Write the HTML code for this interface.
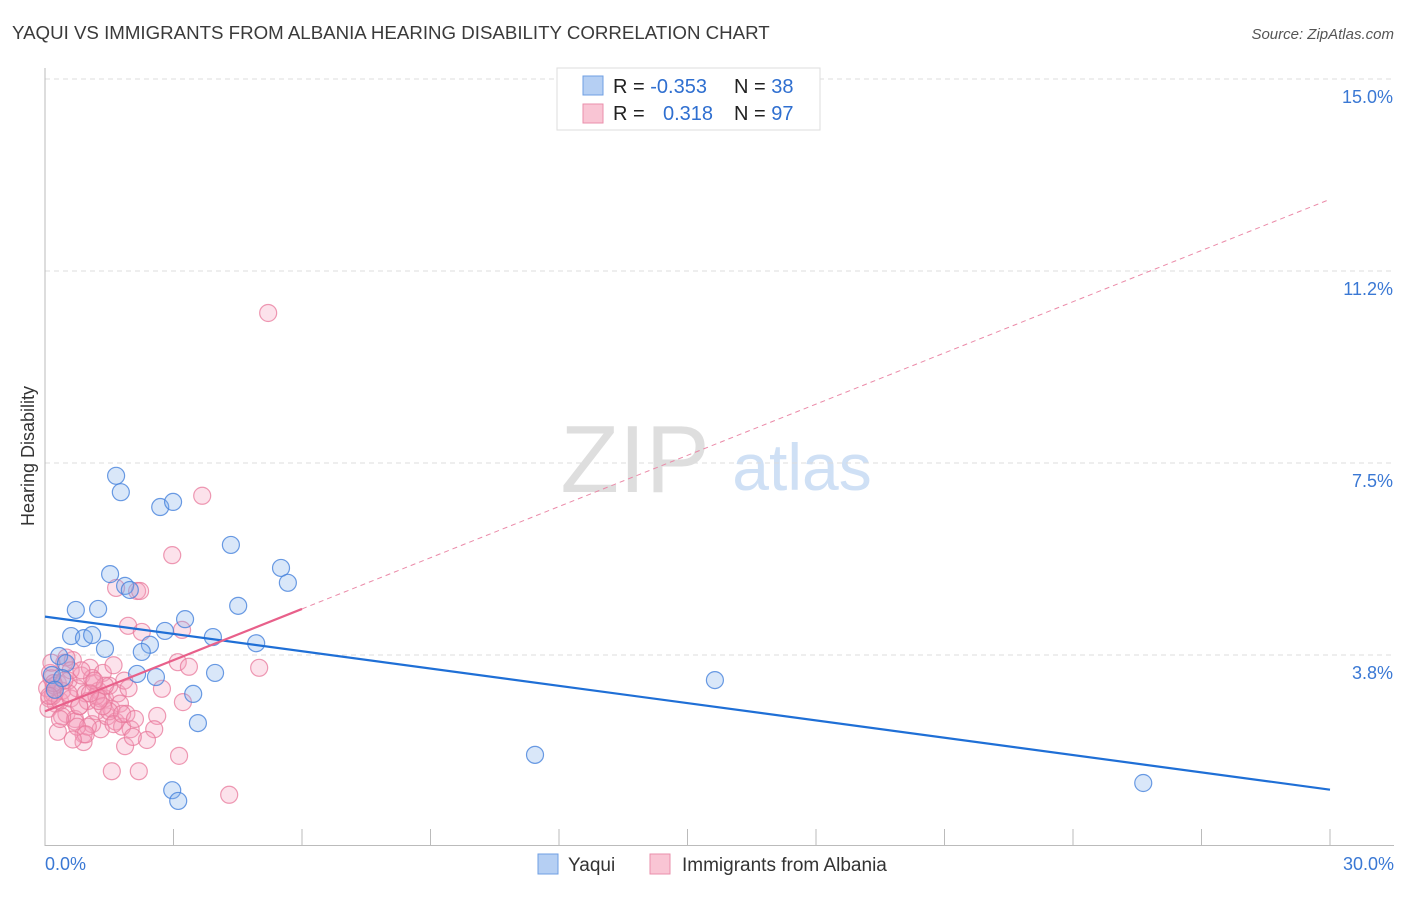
<!DOCTYPE html>
<html><head><meta charset="utf-8"><style>
body{margin:0;background:#fff;font-family:"Liberation Sans",sans-serif;}
svg text{font-family:"Liberation Sans",sans-serif;}
</style></head><body>
<svg id="c" width="1406" height="892" xmlns="http://www.w3.org/2000/svg">
<text x="12" y="39" font-size="18.7" fill="#3a3a3a">YAQUI VS IMMIGRANTS FROM ALBANIA HEARING DISABILITY CORRELATION CHART</text>
<text x="1394" y="39" font-size="15" fill="#555" font-style="italic" text-anchor="end">Source: ZipAtlas.com</text>
<text x="635" y="492" font-size="96" fill="#dedede" font-family="Liberation Serif,serif" text-anchor="middle">ZIP</text>
<text x="802" y="490" font-size="66" fill="#cfe0f5" text-anchor="middle">atlas</text>
<text transform="translate(34,456) rotate(-90)" font-size="18" fill="#333" text-anchor="middle">Hearing Disability</text>
<g id="grid"></g><g id="marks"></g><g id="lines"></g>
<g>
<rect x="557" y="68" width="263" height="62" fill="#fff" stroke="#ddd"/>
<rect x="583" y="76" width="20" height="19" fill="#b5cff3" stroke="#6f9fe3"/>
<rect x="583" y="104" width="20" height="19" fill="#f9c5d4" stroke="#ea8fab"/>
<text x="613" y="93" font-size="20" fill="#222">R = <tspan fill="#2f6fd0">-0.353</tspan></text>
<text x="734" y="93" font-size="20" fill="#222">N = <tspan fill="#2f6fd0">38</tspan></text>
<text x="613" y="120" font-size="20" fill="#222">R = <tspan x="663" fill="#2f6fd0">0.318</tspan></text>
<text x="734" y="120" font-size="20" fill="#222">N = <tspan fill="#2f6fd0">97</tspan></text>
</g>
<g>
<rect x="538" y="854" width="20" height="20" fill="#b5cff3" stroke="#6f9fe3"/>
<text x="568" y="871" font-size="19" fill="#333">Yaqui</text>
<rect x="650" y="854" width="20" height="20" fill="#f9c5d4" stroke="#ea8fab"/>
<text x="682" y="871" font-size="19" fill="#333">Immigrants from Albania</text>
</g>
</svg>
<script>
const yTicks=[3.8,7.5,11.2,15.0];
const yTickVals=[3.75,7.5,11.25,15.0];
const xTickLabels=["0.0%","30.0%"];
const blueX=[1.66,1.77,2.69,2.99,4.34,1.52,1.87,1.98,5.51,5.67,0.72,1.24,4.51,3.27,0.61,0.91,1.10,2.80,3.92,2.45,4.93,0.33,1.40,2.26,0.49,0.16,0.40,2.15,2.59,3.97,3.46,3.57,2.97,3.11,15.64,11.44,25.64,0.23];
const blueY=[7.25,6.93,6.64,6.74,5.90,5.33,5.10,5.02,5.45,5.16,4.63,4.65,4.71,4.45,4.12,4.08,4.14,4.22,4.10,3.95,3.98,3.73,3.87,3.81,3.59,3.36,3.30,3.38,3.32,3.40,2.99,2.42,1.11,0.90,3.26,1.80,1.25,3.07];
const pinkX=[5.21,3.67,2.97,1.66,2.15,2.22,1.94,3.2,2.26,5.0,3.1,3.36,2.73,3.22,2.62,2.55,3.13,2.19,1.56,4.3,2.38,1.87,2.0,
0.05,0.1,0.15,0.2,0.25,0.3,0.08,0.12,0.18,0.22,0.35,0.4,0.45,0.5,0.55,0.6,0.65,0.7,0.75,0.8,0.85,0.9,0.95,1.0,1.05,1.1,1.15,1.2,1.25,1.3,1.35,1.4,1.45,1.5,1.55,1.6,1.65,1.7,1.75,1.8,1.85,1.9,1.95,2.05,0.3,0.5,0.7,0.9,1.1,1.3,1.5,0.6,0.8,1.0,1.2,1.4,0.2,0.4,0.15,0.35,0.55,0.75,0.95,1.15,1.35,1.6,1.8,0.1,0.45,0.85,1.25,0.65,1.05,2.1];
const pinkY=[10.43,6.86,5.70,5.06,5.00,5.00,4.32,4.24,4.2,3.5,3.61,3.52,3.09,2.83,2.56,2.3,1.78,1.48,1.48,1.02,2.09,1.97,2.3,
3.1,2.9,3.3,3.0,2.8,3.2,2.7,3.4,2.95,3.15,2.85,3.05,3.6,2.6,3.25,2.9,3.65,2.5,3.1,2.75,3.35,2.2,3.0,2.85,3.5,2.4,3.2,2.65,3.05,2.3,3.4,2.9,2.55,3.15,2.7,3.55,2.45,3.0,2.8,2.35,3.25,2.6,3.1,2.15,2.25,3.7,2.45,2.05,3.3,2.9,2.65,3.45,2.75,2.35,2.95,3.15,3.2,2.55,3.6,2.5,3.0,2.35,2.2,3.25,2.75,2.4,2.6,2.95,3.25,3.45,2.85,2.1,3.0,2.5];
const blueLine=[[0,4.5],[30,1.12]];
const pinkSolid=[[0,2.65],[6.0,4.65]];
const pinkDash=[[6.0,4.65],[30,12.65]];

const NS="http://www.w3.org/2000/svg";
const X=v=>45+v*1285/30, Y=v=>847-v*51.2;
function mk(t,a,p){const e=document.createElementNS(NS,t);for(const k in a)e.setAttribute(k,a[k]);document.getElementById(p).appendChild(e);return e;}
yTicks.forEach((t,i)=>{
  const y=Y(yTickVals[i]);
  const g=mk('line',{x1:45,x2:1394,y1:y,y2:y,stroke:'#ddd','stroke-dasharray':'5,4'},'grid');
  
  
  const t2=mk('text',{x:1393,y:y+24,'font-size':18,fill:'#3a78d4','text-anchor':'end'},'grid');
  t2.textContent=t.toFixed(1)+'%';
  
  
});
let ax=mk('line',{x1:45,x2:45,y1:68,y2:846,stroke:'#bbb'},'grid');


ax=mk('line',{x1:45,x2:1394,y1:845.5,y2:845.5,stroke:'#bbb'},'grid');


for(let k=1;k<=10;k++){const x=X(k*3);const tk=mk('line',{x1:x,x2:x,y1:829,y2:845,stroke:'#bbb'},'grid');

}
[[0,'start'],[30,'end']].forEach((d,i)=>{const t=mk('text',{x:i?1394:45,y:870,'font-size':18,fill:'#3a78d4','text-anchor':d[1]},'grid');t.textContent=xTickLabels[i];

});
pinkX.forEach((v,i)=>{const c=mk('circle',{cx:X(v),cy:Y(pinkY[i]),r:8.5,fill:'rgba(246,160,188,0.3)',stroke:'rgba(232,120,155,0.75)','stroke-width':1.2},'marks');

});
blueX.forEach((v,i)=>{const c=mk('circle',{cx:X(v),cy:Y(blueY[i]),r:8.5,fill:'rgba(130,175,235,0.3)',stroke:'rgba(70,130,220,0.8)','stroke-width':1.2},'marks');

});
let l=mk('line',{x1:X(blueLine[0][0]),y1:Y(blueLine[0][1]),x2:X(blueLine[1][0]),y2:Y(blueLine[1][1]),stroke:'#1f6fd6','stroke-width':2.2},'lines');


l=mk('line',{x1:X(pinkDash[0][0]),y1:Y(pinkDash[0][1]),x2:X(pinkDash[1][0]),y2:Y(pinkDash[1][1]),stroke:'#eb8aa8','stroke-width':1,'stroke-dasharray':'5,4'},'lines');


l=mk('line',{x1:X(pinkSolid[0][0]),y1:Y(pinkSolid[0][1]),x2:X(pinkSolid[1][0]),y2:Y(pinkSolid[1][1]),stroke:'#e8608a','stroke-width':2.2},'lines');


</script>
</body></html>
